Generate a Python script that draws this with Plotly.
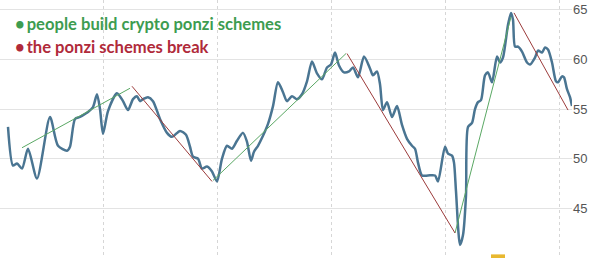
import plotly.graph_objects as go

# time index (trading-day position) and index level
t = [8, 13, 17, 22, 28, 37, 50, 58, 67, 70, 75, 80, 85, 88, 93, 97, 100, 103, 108, 117,
     123, 128, 133, 137, 140, 143, 148, 153, 160, 167, 172, 180, 186, 190, 193, 198, 202, 207, 212, 217,
     222, 227, 232, 237, 243, 247, 251, 254, 258, 263, 268, 273, 278, 283, 287, 292, 297, 302, 307, 312,
     317, 322, 327, 331, 335, 339, 344, 349, 353, 358, 364, 370, 373, 377, 380, 383, 387, 392, 397, 402,
     407, 412, 415, 418, 422, 428, 435, 438, 445, 448, 452, 454, 456, 460, 463, 466, 468, 472, 475, 478,
     481, 485, 488, 492, 497, 500, 503, 508, 511, 513, 515, 518, 522, 527, 530, 535, 538, 542, 545, 548,
     552, 556, 558, 562, 564, 567, 570, 572]
level = [53.2, 49.3, 49.5, 49.0, 51.0, 48.0, 54.2, 51.3, 50.8, 51.2, 54.0, 54.2, 54.5, 54.7, 55.2, 56.5, 55.0, 52.5, 54.8, 56.6,
         55.8, 54.9, 56.0, 56.3, 55.8, 56.0, 56.2, 55.8, 54.0, 52.6, 52.2, 52.8, 52.4, 51.2, 50.2, 50.0, 49.0, 49.2, 48.7, 47.7,
         50.0, 51.3, 51.0, 51.8, 52.6, 51.7, 49.8, 50.7, 51.3, 52.3, 53.5, 55.3, 57.7, 56.7, 55.8, 56.3, 56.0, 56.5, 57.8, 59.8,
         58.6, 58.0, 59.2, 59.5, 60.7, 59.4, 58.7, 58.8, 59.2, 58.2, 60.3, 59.1, 58.4, 58.8, 57.5, 54.9, 55.7, 54.2, 55.3, 53.4,
         52.0, 51.3, 51.0, 49.6, 48.3, 48.3, 48.3, 47.7, 51.2, 50.5, 50.3, 49.6, 46.7, 41.3, 42.3, 46.3, 53.2, 53.6, 55.0, 55.7,
         55.9, 58.4, 58.7, 57.7, 60.3, 59.7, 60.2, 63.5, 64.7, 64.0, 61.3, 61.3, 60.8, 59.7, 59.5, 60.2, 60.9, 60.7, 61.2, 61.0,
         59.7, 57.8, 57.7, 58.3, 58.2, 57.0, 56.2, 55.3]

# trend segments: (start t, start level, end t, end level)
build_segments = [(22, 51.1, 130, 57.1), (213, 47.8, 346, 60.6), (455, 42.5, 511, 64.3)]
break_segments = [(132, 57.3, 212, 47.7), (347, 60.6, 455, 42.5), (514, 64.7, 568, 54.9)]

y_ticks = [40, 45, 50, 55, 60, 65]
label_build = "people build crypto ponzi schemes"
label_break = "the ponzi schemes break"

BLUE = "#4a7592"
GREEN = "#5aa864"
RED = "#9c3b3b"

fig = go.Figure()
fig.add_trace(go.Scatter(x=t, y=level, mode="lines",
                         line=dict(color=BLUE, width=2.5, shape="spline", smoothing=0.7),
                         hoverinfo="skip", showlegend=False))
for seg in build_segments:
    fig.add_trace(go.Scatter(x=[seg[0], seg[2]], y=[seg[1], seg[3]], mode="lines",
                             line=dict(color=GREEN, width=1), showlegend=False, hoverinfo="skip"))
for seg in break_segments:
    fig.add_trace(go.Scatter(x=[seg[0], seg[2]], y=[seg[1], seg[3]], mode="lines",
                             line=dict(color=RED, width=1), showlegend=False, hoverinfo="skip"))

fig.add_annotation(xref="paper", yref="paper", x=0.022, y=1 - 24 / 258, xanchor="left", yanchor="middle",
                   text="<b>•&#8201;" + label_build + "</b>", showarrow=False,
                   font=dict(family="Lato", size=16.6, color="#3d9c50"))
fig.add_annotation(xref="paper", yref="paper", x=0.022, y=1 - 47 / 258, xanchor="left", yanchor="middle",
                   text="<b>•&#8201;" + label_break + "</b>", showarrow=False,
                   font=dict(family="Lato", size=16.6, color="#b02a3a"))

fig.add_shape(type="rect", xref="x", yref="paper", x0=491, x1=505, y0=0, y1=0.014,
              fillcolor="#e8b830", line_width=0)

fig.update_layout(
    width=600, height=258,
    margin=dict(l=0, r=28, t=0, b=0),
    paper_bgcolor="white", plot_bgcolor="white",
    xaxis=dict(range=[0, 572], showticklabels=False, tick0=103, dtick=114,
               showgrid=True, gridcolor="#d6d6d6", griddash="dot", gridwidth=1,
               zeroline=False, showline=False, ticks=""),
    yaxis=dict(range=[39.98, 66], side="right", tickvals=y_ticks,
               ticktext=[str(v) for v in y_ticks],
               showgrid=True, gridcolor="#e3e3e3", gridwidth=1,
               zeroline=False, showline=False, ticks="",
               tickfont=dict(family="Liberation Sans", size=13, color="#555555")),
)

fig.write_html("out.html")
